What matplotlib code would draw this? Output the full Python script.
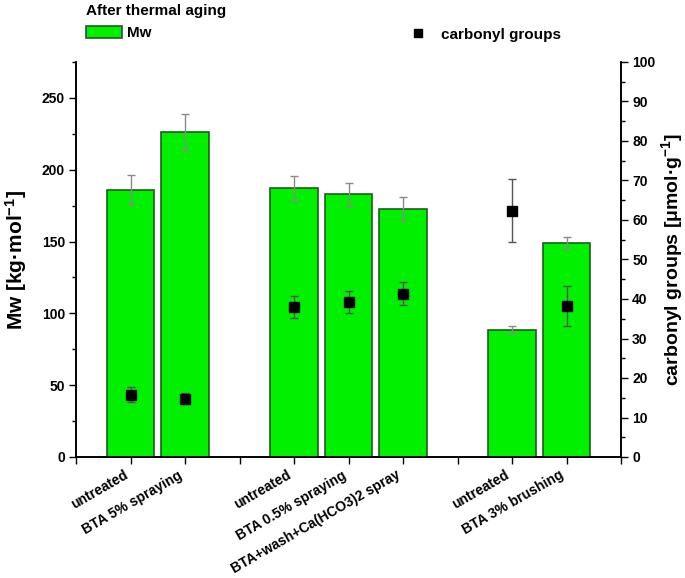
import numpy as np
import matplotlib
matplotlib.use("Agg")
import matplotlib.pyplot as plt
from matplotlib.patches import Patch
from matplotlib.lines import Line2D

# data
positions = [1, 2, 4, 5, 6, 8, 9]          # slots 3 and 7 are gaps between groups
labels = ['untreated', 'BTA 5% spraying',
          'untreated', 'BTA 0.5% spraying', 'BTA+wash+Ca(HCO3)2 spray',
          'untreated', 'BTA 3% brushing']
mw = [186, 226, 187, 183, 173, 88.5, 149]
mw_err = [10, 12.5, 8.5, 8, 8, 2.5, 4]
carbonyl = [15.8, 14.8, 38.0, 39.2, 41.3, 62.4, 38.2]
carbonyl_err = [1.8, 1.5, 2.7, 2.7, 2.9, 8.0, 5.0]

plt.rcParams['font.family'] = ['Liberation Sans', 'DejaVu Sans']
plt.rcParams['font.weight'] = 'bold'
plt.rcParams['mathtext.fontset'] = 'custom'
plt.rcParams['mathtext.rm'] = 'Liberation Sans:bold'
plt.rcParams['mathtext.bf'] = 'Liberation Sans:bold'
plt.rcParams['mathtext.default'] = 'bf'

fig = plt.figure(figsize=(6.85, 5.78), dpi=100)
ax = fig.add_axes([76 / 685, 1 - 457 / 578, 545 / 685, 395 / 578])
ax2 = ax.twinx()

green = '#00f000'
edge = '#1e5e1e'

ax.bar(positions, mw, width=0.88, color=green, edgecolor=edge, linewidth=1.2, zorder=2)
ax.errorbar(positions, mw, yerr=mw_err, fmt='none', ecolor='#8a8a8a',
            elinewidth=1, capsize=3, capthick=1, zorder=3)

ax2.errorbar(positions, carbonyl, yerr=carbonyl_err, fmt='s', color='black',
             markersize=7, ecolor='#555555', elinewidth=1, capsize=3, capthick=1)

ax.set_xlim(0, 10)
ax.set_ylim(0, 275)
ax2.set_ylim(0, 100)

ax.set_xticks(range(0, 11))
tick_labels = [''] * 11
for p, lab in zip(positions, labels):
    tick_labels[p] = lab
ax.set_xticklabels(tick_labels, rotation=30, ha='right', fontsize=10, fontweight='bold')

ax.set_yticks(np.arange(0, 251, 50))
ax.set_yticks(np.arange(0, 276, 25), minor=True)
ax2.set_yticks(np.arange(0, 101, 10))
ax2.set_yticks(np.arange(0, 101, 5), minor=True)

for a in (ax, ax2):
    a.tick_params(which='major', direction='out', length=5, width=1, labelsize=10, pad=3)
    a.tick_params(which='minor', direction='out', length=3, width=1)
    a.spines['top'].set_visible(False)
    for s in a.spines.values():
        s.set_linewidth(1.2)
ax.tick_params(axis='x', which='minor', bottom=False)

ax.set_ylabel('Mw [kg·mol$^{-1}$]', fontsize=15, fontweight='bold', labelpad=9)
ax2.set_ylabel('carbonyl groups [μmol·g$^{-1}$]', fontsize=14, fontweight='bold', labelpad=3)

# legends
leg1 = fig.legend(handles=[Patch(facecolor=green, edgecolor=edge, linewidth=1.2)], labels=['Mw'],
                  title='After thermal aging', loc='upper left',
                  bbox_to_anchor=(86 / 685, 1 - 4 / 578), frameon=False, borderpad=0,
                  borderaxespad=0, fontsize=11, title_fontsize=11, handlelength=2.35,
                  handleheight=0.85, handletextpad=0.36, alignment='left')
leg1.get_title().set_fontweight('bold')

fig.legend(handles=[Line2D([], [], marker='s', color='black', linestyle='none', markersize=6)],
           labels=['carbonyl groups'], loc='center left',
           bbox_to_anchor=(410 / 685, 1 - 34.5 / 578), frameon=False, borderpad=0,
           borderaxespad=0, fontsize=11, handlelength=1, handletextpad=1.0)

fig.savefig('out.png', dpi=100)
